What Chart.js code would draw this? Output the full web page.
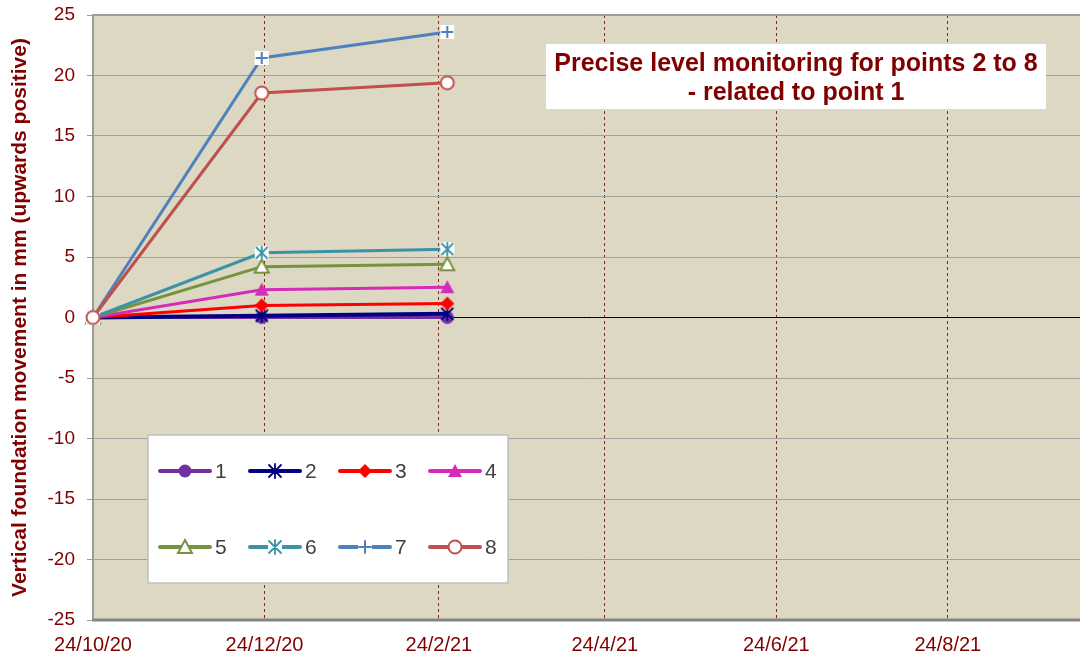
<!DOCTYPE html>
<html>
<head>
<meta charset="utf-8">
<script src="https://cdn.jsdelivr.net/npm/chart.js@4.4.1/dist/chart.umd.min.js"></script>
<style>
  html, body { margin: 0; padding: 0; background: #fff; }
  #wrap { width: 1080px; height: 659px; }
</style>
</head>
<body>
<div id="wrap"><canvas id="levelChart" width="1080" height="659"></canvas></div>
<script>
// measurement dates (d/m/y in the picture)
const measureDates = ['2020-10-24', '2020-12-23', '2021-02-27'];

// vertical movement in mm, relative to point 1
const point1 = [0, 0, 0];
const point2 = [0, 0.15, 0.3];
const point3 = [0, 1.0, 1.15];
const point4 = [0, 2.3, 2.5];
const point5 = [0, 4.2, 4.4];
const point6 = [0, 5.35, 5.65];
const point7 = [0, 21.45, 23.6];
const point8 = [0, 18.55, 19.4];

const seriesNames = ['1', '2', '3', '4', '5', '6', '7', '8'];
const seriesValues = [point1, point2, point3, point4, point5, point6, point7, point8];

// x axis ticks
const tickDates = ['2020-10-24', '2020-12-24', '2021-02-24', '2021-04-24', '2021-06-24', '2021-08-24'];
const tickLabels = ['24/10/20', '24/12/20', '24/2/21', '24/4/21', '24/6/21', '24/8/21'];
const axisEndDate = '2021-10-10';

const yTicks = [-25, -20, -15, -10, -5, 0, 5, 10, 15, 20, 25];

const chartTitle = ['Precise level monitoring for points 2 to 8', '- related to point 1'];
const yTitle = 'Vertical foundation movement in mm (upwards positive)';

// styles
const lineColors = ['#7030A0', '#000080', '#FF0000', '#D62BB8', '#77933C', '#3C93A8', '#4F81BD', '#C0504D'];
const markerKinds = ['circle', 'asterisk', 'diamond', 'triangle', 'triangleOpen', 'asteriskBox', 'plusBox', 'circleOpen'];
const darkRed = '#800000';
const plotBg = '#DDD8C3';

function dayNum(s) {
    const p = s.split('-').map(Number);
    const start = measureDates[0].split('-').map(Number);
    return (Date.UTC(p[0], p[1] - 1, p[2]) - Date.UTC(start[0], start[1] - 1, start[2])) / 86400000;
}

function drawMarker(ctx, kind, x, y, color) {
    ctx.save();
    ctx.strokeStyle = color;
    ctx.fillStyle = color;
    ctx.lineWidth = 2;
    if (kind === 'circle') {
        ctx.beginPath(); ctx.arc(x, y, 6.5, 0, Math.PI * 2); ctx.fill();
    } else if (kind === 'circleOpen') {
        ctx.fillStyle = '#fff';
        ctx.beginPath(); ctx.arc(x, y, 6.5, 0, Math.PI * 2); ctx.fill(); ctx.stroke();
    } else if (kind === 'diamond') {
        ctx.beginPath();
        ctx.moveTo(x, y - 7); ctx.lineTo(x + 7, y); ctx.lineTo(x, y + 7); ctx.lineTo(x - 7, y);
        ctx.closePath(); ctx.fill();
    } else if (kind === 'triangle' || kind === 'triangleOpen') {
        ctx.beginPath();
        ctx.moveTo(x, y - 7); ctx.lineTo(x + 7, y + 6); ctx.lineTo(x - 7, y + 6);
        ctx.closePath();
        if (kind === 'triangleOpen') { ctx.fillStyle = '#fff'; ctx.fill(); ctx.stroke(); }
        else ctx.fill();
    } else if (kind === 'asterisk' || kind === 'asteriskBox') {
        if (kind === 'asteriskBox') { ctx.fillStyle = '#fff'; ctx.fillRect(x - 7, y - 7, 14, 14); }
        ctx.lineWidth = 1.8;
        ctx.beginPath();
        ctx.moveTo(x, y - 7); ctx.lineTo(x, y + 7);
        ctx.moveTo(x - 6, y - 6); ctx.lineTo(x + 6, y + 6);
        ctx.moveTo(x + 6, y - 6); ctx.lineTo(x - 6, y + 6);
        ctx.stroke();
    } else if (kind === 'plusBox') {
        ctx.fillStyle = '#fff'; ctx.fillRect(x - 7, y - 7, 14, 14);
        ctx.lineWidth = 2;
        ctx.beginPath();
        ctx.moveTo(x, y - 6); ctx.lineTo(x, y + 6);
        ctx.moveTo(x - 6, y); ctx.lineTo(x + 6, y);
        ctx.stroke();
    }
    ctx.restore();
}

function markerImage(kind, color) {
    const c = document.createElement('canvas');
    c.width = 18; c.height = 18;
    drawMarker(c.getContext('2d'), kind, 9, 9, color);
    return c;
}

const markerImages = markerKinds.map((k, i) => markerImage(k, lineColors[i]));

const datasets = seriesNames.map((name, i) => ({
    label: name,
    data: measureDates.map((d, j) => ({ x: dayNum(d), y: seriesValues[i][j] })),
    borderColor: lineColors[i],
    backgroundColor: lineColors[i],
    borderWidth: i === 1 ? 4 : 3,
    pointStyle: markerImages[i],
    pointRadius: 7,
    tension: 0,
    clip: false,
    order: seriesNames.length - i
}));

const framePlugin = {
    id: 'frame',
    beforeDraw(chart) {
        const { ctx, chartArea: a } = chart;
        ctx.save();
        ctx.fillStyle = '#fff';
        ctx.fillRect(0, 0, chart.width, chart.height);
        ctx.fillStyle = plotBg;
        ctx.fillRect(a.left, a.top, a.right - a.left, a.bottom - a.top);
        ctx.restore();
    },
    beforeDatasetsDraw(chart) {
        const { ctx, chartArea: a } = chart;
        ctx.save();
        ctx.strokeStyle = '#9C9C9C';
        ctx.lineWidth = 2;
        ctx.beginPath();
        ctx.moveTo(a.left, a.bottom); ctx.lineTo(a.left, a.top); ctx.lineTo(a.right, a.top);
        ctx.stroke();
        ctx.strokeStyle = '#858585';
        ctx.lineWidth = 3;
        ctx.beginPath();
        ctx.moveTo(a.left - 1, a.bottom); ctx.lineTo(a.right, a.bottom);
        ctx.stroke();
        ctx.restore();
    },
    afterDraw(chart) {
        const ctx = chart.ctx;
        ctx.save();
        // title box
        ctx.fillStyle = '#fff';
        ctx.fillRect(546, 44, 500, 65);
        ctx.fillStyle = darkRed;
        ctx.font = 'bold 25px "Liberation Sans", Arial, sans-serif';
        ctx.textAlign = 'center';
        ctx.textBaseline = 'middle';
        ctx.fillText(chartTitle[0], 796, 64);
        ctx.fillText(chartTitle[1], 796, 93);
        // legend box
        ctx.fillStyle = '#fff';
        ctx.fillRect(148, 435, 360, 148);
        ctx.strokeStyle = '#BFBFBF';
        ctx.lineWidth = 1.5;
        ctx.strokeRect(148, 435, 360, 148);
        ctx.font = '21px "Liberation Sans", Arial, sans-serif';
        ctx.textAlign = 'left';
        chart.data.datasets.forEach((ds, i) => {
            const x0 = 160 + (i % 4) * 90;
            const y0 = i < 4 ? 471 : 547;
            ctx.strokeStyle = ds.borderColor;
            ctx.lineWidth = 4;
            ctx.lineCap = 'round';
            ctx.beginPath(); ctx.moveTo(x0, y0); ctx.lineTo(x0 + 50, y0); ctx.stroke();
            drawMarker(ctx, markerKinds[i], x0 + 25, y0, ds.borderColor);
            ctx.fillStyle = '#404040';
            ctx.fillText(ds.label, x0 + 55, y0 + 1);
        });
        ctx.restore();
    }
};

const tickDays = tickDates.map(dayNum);

new Chart(document.getElementById('levelChart').getContext('2d'), {
    type: 'line',
    data: { datasets: datasets },
    plugins: [framePlugin],
    options: {
        responsive: false,
        animation: false,
        layout: { autoPadding: false, padding: { top: 15, right: 0, left: 0, bottom: 0 } },
        plugins: {
            legend: { display: false },
            tooltip: { enabled: false }
        },
        scales: {
            x: {
                type: 'linear',
                min: 0,
                max: dayNum(axisEndDate),
                afterBuildTicks: function (scale) {
                    scale.ticks = tickDays.map(v => ({ value: v }));
                },
                afterFit: function (scale) {
                    scale.height = 39;
                    scale.paddingLeft = 0;
                    scale.paddingRight = 0;
                },
                ticks: {
                    autoSkip: false,
                    maxRotation: 0,
                    padding: 13,
                    color: darkRed,
                    font: { family: '"Liberation Sans", Arial, sans-serif', size: 20 },
                    callback: function (value, index) { return tickLabels[index]; }
                },
                grid: {
                    drawTicks: false,
                    lineWidth: 1,
                    color: ctx => (ctx.tick && ctx.tick.value === 0 ? 'rgba(0,0,0,0)' : '#9B1B1B')
                },
                border: { display: false, dash: [3, 3] }
            },
            y: {
                min: -25,
                max: 25,
                afterBuildTicks: function (scale) {
                    scale.ticks = yTicks.map(v => ({ value: v }));
                },
                afterFit: function (scale) {
                    scale.width = 93;
                    scale.paddingTop = 0;
                    scale.paddingBottom = 0;
                },
                ticks: {
                    padding: 12,
                    color: darkRed,
                    font: { family: '"Liberation Sans", Arial, sans-serif', size: 19 }
                },
                grid: {
                    tickLength: 6,
                    tickColor: '#9C9C9C',
                    lineWidth: 1,
                    color: ctx => (ctx.tick && ctx.tick.value === 0 ? '#000000' : '#A0A0A0')
                },
                border: { display: false },
                title: {
                    display: true,
                    text: yTitle,
                    color: darkRed,
                    padding: { top: 8, bottom: 0 },
                    font: { family: '"Liberation Sans", Arial, sans-serif', size: 21, weight: 'bold' }
                }
            }
        }
    }
});
</script>
</body>
</html>
